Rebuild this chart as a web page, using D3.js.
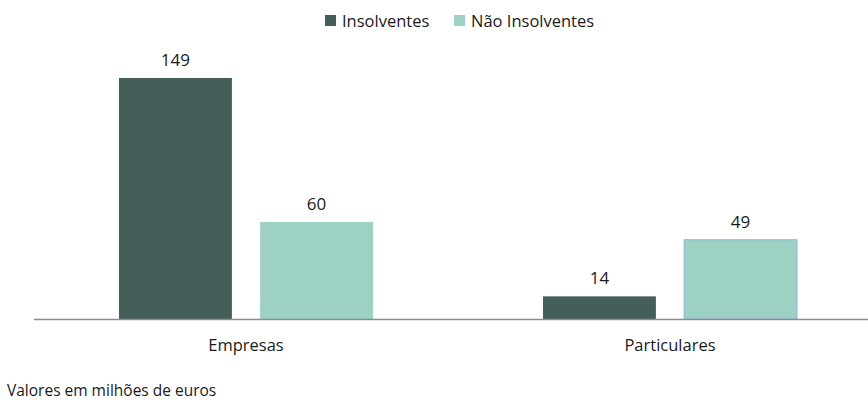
<!DOCTYPE html>
<html>
<head>
<meta charset="utf-8">
<script src="https://cdn.jsdelivr.net/npm/d3@7"></script>
<style>
  html, body { margin: 0; padding: 0; background: #fff; }
  svg text { font-family: "Open Sans", "Noto Sans", sans-serif; fill: #1a1a1a; }
</style>
</head>
<body>
<svg id="chart" width="868" height="402"></svg>
<script>
// Crédito por tipo de cliente
const categories = ["Empresas", "Particulares"];
const seriesNames = ["Insolventes", "Não Insolventes"];
const insolventes = [149, 14];
const naoInsolventes = [60, 49];
const note = "Valores em milhões de euros";

const colors = ["#445e59", "#9dd1c3"];

const svg = d3.select("#chart");
const baseY = 319;

const x0 = d3.scaleBand().domain(categories).range([34, 882]).paddingInner(0).paddingOuter(0);
const x1 = d3.scaleBand().domain(seriesNames).range([85, 339]).paddingInner(0.2);
const y = d3.scaleLinear().domain([0, 149]).range([baseY, 78]);

const rows = categories.map((c, i) => ({
  category: c,
  values: [
    { series: seriesNames[0], value: insolventes[i] },
    { series: seriesNames[1], value: naoInsolventes[i] }
  ]
}));

const groups = svg.selectAll("g.cat").data(rows).join("g")
  .attr("class", "cat")
  .attr("transform", d => `translate(${x0(d.category)},0)`);

groups.selectAll("rect").data(d => d.values.map(v => ({...v, category: d.category}))).join("rect")
  .attr("x", d => x1(d.series))
  .attr("y", d => y(d.value))
  .attr("width", x1.bandwidth())
  .attr("height", d => baseY - y(d.value))
  .attr("fill", (d, i) => colors[i])
  .attr("stroke", d => (d.category === "Particulares" && d.series === seriesNames[1]) ? "#8fb3e0" : "none")
  .attr("stroke-width", 1);

groups.selectAll("text.val").data(d => d.values).join("text")
  .attr("class", "val")
  .attr("x", d => x1(d.series) + x1.bandwidth() / 2)
  .attr("y", d => y(d.value) - 12)
  .attr("text-anchor", "middle")
  .attr("font-size", 17)
  .text(d => d.value);

// baseline axis
svg.append("line")
  .attr("x1", 34).attr("x2", 868)
  .attr("y1", baseY + 0.5).attr("y2", baseY + 0.5)
  .attr("stroke", "#8c8c8c").attr("stroke-width", 1.5);

// category labels
svg.selectAll("text.cat").data(categories).join("text")
  .attr("class", "cat")
  .attr("x", d => x0(d) + x0.bandwidth() / 2)
  .attr("y", 351)
  .attr("text-anchor", "middle")
  .attr("font-size", 16.5)
  .text(d => d);

// legend
const legendItems = [
  { name: seriesNames[0], x: 325, color: colors[0] },
  { name: seriesNames[1], x: 454, color: colors[1] }
];
const legend = svg.append("g");
legend.selectAll("rect").data(legendItems).join("rect")
  .attr("x", d => d.x).attr("y", 15).attr("width", 11).attr("height", 11)
  .attr("fill", d => d.color);
legend.selectAll("text").data(legendItems).join("text")
  .attr("x", d => d.x + 17).attr("y", 27)
  .attr("font-size", 16.5)
  .text(d => d.name);

// footnote
svg.append("text")
  .attr("x", 7).attr("y", 396)
  .attr("font-size", 15.5)
  .attr("fill", "#333")
  .text(note);
</script>
</body>
</html>
